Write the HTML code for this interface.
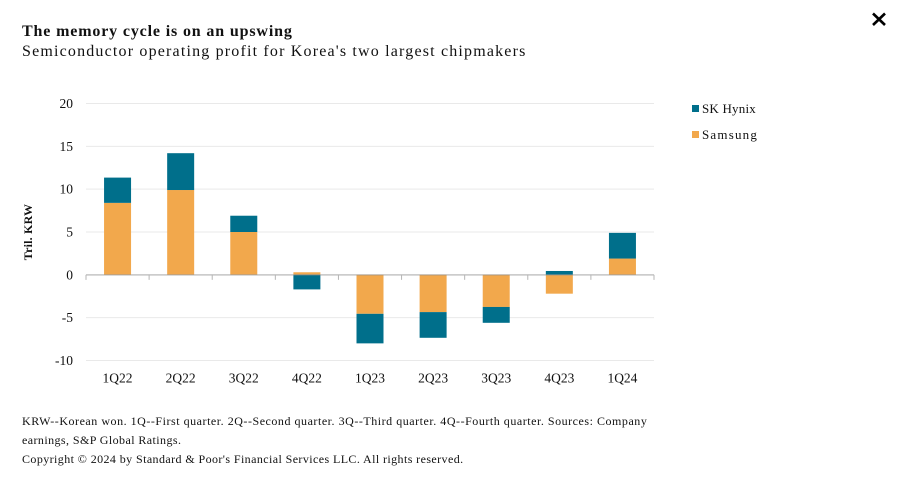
<!DOCTYPE html>
<html lang="en">
<head>
<meta charset="utf-8">
<title>The memory cycle is on an upswing</title>
<style>
html,body{margin:0;padding:0;background:#fff;}
body{width:898px;height:495px;overflow:hidden;position:relative;font-family:"Liberation Serif",serif;color:#111;}
.t{position:absolute;white-space:nowrap;margin:0;}
#chart{position:absolute;left:0;top:0;}
#chart text{font-family:"Liberation Serif",serif;fill:#111;}
</style>
</head>
<body>
<div class="t" style="left:22px;top:23px;font-size:16px;line-height:18px;font-weight:bold;letter-spacing:0.85px;">The memory cycle is on an upswing</div>
<div class="t" style="left:22px;top:43px;font-size:16px;line-height:18px;letter-spacing:1.18px;">Semiconductor operating profit for Korea's two largest chipmakers</div>

<svg id="chart" width="898" height="495" viewBox="0 0 898 495">
  <g id="grid"></g>
  <g id="bars"></g>
  <g id="axis"></g>
  <g id="ylabels"></g>
  <g id="xlabels"></g>
  <text transform="translate(32,232) rotate(-90)" text-anchor="middle" font-size="12" font-weight="bold" letter-spacing="0.2">Tril. KRW</text>
  <rect x="692" y="105" width="7" height="7" fill="#006f8b"/>
  <text x="702" y="113" font-size="13" letter-spacing="0.2">SK Hynix</text>
  <rect x="692" y="131" width="7" height="7" fill="#f2a84c"/>
  <text x="702" y="139" font-size="13" letter-spacing="1.2">Samsung</text>
  <g style="cursor:pointer">
    <rect x="868" y="8" width="22" height="22" fill="transparent"/>
    <path d="M873 13.5 L885 25 M885 13.5 L873 25" stroke="#000" stroke-width="2.6" fill="none"/>
  </g>
</svg>

<div class="t" style="left:22px;top:414px;font-size:12px;line-height:14px;letter-spacing:0.53px;">KRW--Korean won. 1Q--First quarter. 2Q--Second quarter. 3Q--Third quarter. 4Q--Fourth quarter. Sources: Company</div>
<div class="t" style="left:22px;top:433px;font-size:12px;line-height:14px;letter-spacing:0.42px;">earnings, S&amp;P Global Ratings.</div>
<div class="t" style="left:22px;top:452px;font-size:12px;line-height:14px;letter-spacing:0.41px;">Copyright © 2024 by Standard &amp; Poor's Financial Services LLC. All rights reserved.</div>

<script>
const categories = ["1Q22","2Q22","3Q22","4Q22","1Q23","2Q23","3Q23","4Q23","1Q24"];
const samsung = [8.4, 9.9, 5.0, 0.3, -4.55, -4.35, -3.75, -2.2, 1.9];
const skHynix = [2.95, 4.3, 1.9, -1.7, -3.45, -3.0, -1.85, 0.45, 3.0];
const yTicks = [20, 15, 10, 5, 0, -5, -10];

const NS = "http://www.w3.org/2000/svg";
const plotLeft = 86, plotRight = 654, plotTop = 103.5, plotBottom = 360.5;
const yMin = Math.min(...yTicks), yMax = Math.max(...yTicks);
const barWidth = 27;

function yScale(v) {
  return plotTop + (yMax - v) / (yMax - yMin) * (plotBottom - plotTop);
}
function bandWidth() {
  return (plotRight - plotLeft) / categories.length;
}
function xCenter(i) {
  return plotLeft + bandWidth() * (i + 0.5);
}
function make(tag, attrs) {
  const el = document.createElementNS(NS, tag);
  for (const k in attrs) el.setAttribute(k, attrs[k]);
  return el;
}

const gridG = document.getElementById("grid");
const barsG = document.getElementById("bars");
const axisG = document.getElementById("axis");
const yG = document.getElementById("ylabels");
const xG = document.getElementById("xlabels");

yTicks.forEach(function (t) {
  const y = yScale(t);
  if (t !== 0) {
    const line = make("line", {x1: plotLeft, x2: plotRight, y1: y, y2: y, stroke: "#e9e9e9", "stroke-width": 1});
    
    
    gridG.appendChild(line);
  }
  const label = make("text", {x: 73, y: y + 4.5, "text-anchor": "end", "font-size": 13.5});
  label.textContent = String(t);
  
  
  yG.appendChild(label);
});

function drawSegment(i, from, to, color, name) {
  const top = yScale(Math.max(from, to));
  const bottom = yScale(Math.min(from, to));
  const rect = make("rect", {x: xCenter(i) - barWidth / 2, y: top, width: barWidth, height: bottom - top, fill: color});
  
  
  barsG.appendChild(rect);
}

categories.forEach(function (c, i) {
  const s = samsung[i], h = skHynix[i];
  drawSegment(i, 0, s, "#f2a84c", "bar-samsung");
  const start = (s >= 0) === (h >= 0) ? s : 0;
  drawSegment(i, start, start + h, "#006f8b", "bar-sk-hynix");

  const label = make("text", {x: xCenter(i), y: 382.5, "text-anchor": "middle", "font-size": 13.5});
  label.textContent = c;
  
  
  xG.appendChild(label);
});

const zeroY = yScale(0);
const axisLine = make("line", {x1: plotLeft, x2: plotRight, y1: zeroY, y2: zeroY, stroke: "#8c8c8c", "stroke-opacity": 0.5, "stroke-width": 1.5});


axisG.appendChild(axisLine);

for (let i = 0; i <= categories.length; i++) {
  const x = plotLeft + bandWidth() * i;
  const tick = make("line", {x1: x, x2: x, y1: zeroY, y2: zeroY + 5, stroke: "#b5b5b5", "stroke-width": 1});
  
  
  axisG.appendChild(tick);
}
</script>
</body>
</html>
